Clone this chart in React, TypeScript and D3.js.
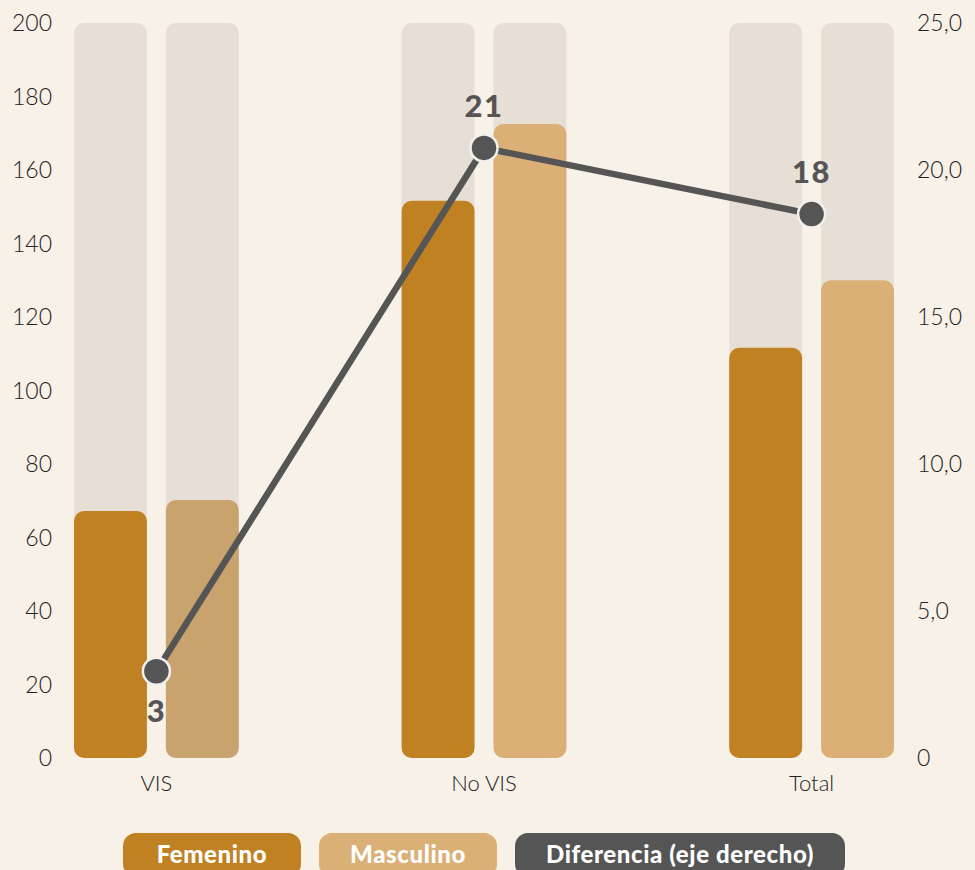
import React from "react";
import * as d3 from "d3";

const categories = ["VIS", "No VIS", "Total"];
const femenino = [67.2, 151.6, 111.6];
const masculino = [70.2, 172.5, 130];
const diferencia = [2.95, 20.75, 18.5];
const diferenciaLabels = ["3", "21", "18"];
const leftTicks = [0, 20, 40, 60, 80, 100, 120, 140, 160, 180, 200];
const rightTicks = [0, 5, 10, 15, 20, 25];
const legendItems = ["Femenino", "Masculino", "Diferencia (eje derecho)"];

const W = 975;
const H = 870;
const FONT = "Lato, 'Noto Sans', sans-serif";

export default function App() {
  const y = d3.scaleLinear().domain([0, 200]).range([758, 23]);
  const yR = d3.scaleLinear().domain([0, 25]).range([758, 23]);
  const x = d3.scaleBand().domain(categories).range([74, 894]).paddingInner(0.497).paddingOuter(0);
  const x1 = d3.scaleBand().domain(["F", "M"]).range([0, x.bandwidth()]).paddingInner(0.2065).paddingOuter(0);
  const bw = x1.bandwidth();
  const fColor = "#bf8122";
  const mColor = "#dab077";
  const mColorVIS = "#c8a36d";
  const bgBar = "#e7dfd5";
  const lineColor = "#555555";

  const pts = categories.map((c, i) => [x(c)! + x.bandwidth() / 2, yR(diferencia[i])] as [number, number]);
  const line = d3.line()(pts) || "";

  const legendX = [123, 319, 515];
  const legendW = [178, 178, 330];
  const legendColors = [fColor, mColor, lineColor];

  return (
    <svg width={W} height={H} style={{ position: "absolute", left: 0, top: 0, display: "block" }}>
      <rect x={0} y={0} width={W} height={H} fill="#f7f1e8" />
      {categories.map((c, i) => (
        <g key={c} transform={`translate(${x(c)},0)`}>
          {["F", "M"].map((k) => (
            <rect key={k} x={x1(k)} y={y(200)} width={bw} height={y(0) - y(200)} rx={10} fill={bgBar} />
          ))}
          <rect x={x1("F")} y={y(femenino[i])} width={bw} height={y(0) - y(femenino[i])} rx={10} fill={fColor} />
          <rect x={x1("M")} y={y(masculino[i])} width={bw} height={y(0) - y(masculino[i])} rx={10} fill={i === 0 ? mColorVIS : mColor} />
          <text x={x.bandwidth() / 2} y={791} textAnchor="middle" fontFamily={FONT} fontWeight={300} fontSize={22} fill="#222">{c}</text>
        </g>
      ))}
      {leftTicks.map((t) => (
        <text key={t} x={52} y={y(t) + 8} textAnchor="end" fontFamily={FONT} fontWeight={300} fontSize={23} fill="#222">{t}</text>
      ))}
      {rightTicks.map((t) => (
        <text key={t} x={917} y={yR(t) + 8} textAnchor="start" fontFamily={FONT} fontWeight={300} fontSize={23} fill="#222">
          {t === 0 ? "0" : d3.format(".1f")(t).replace(".", ",")}
        </text>
      ))}
      <path d={line} fill="none" stroke={lineColor} strokeWidth={6.5} />
      {pts.map((p, i) => (
        <g key={i}>
          <circle cx={p[0]} cy={p[1]} r={13.5} fill={lineColor} stroke="#f2f0ee" strokeWidth={2.5} />
          <text x={p[0]} y={i === 0 ? p[1] + 51 : p[1] - 31} textAnchor="middle" fontFamily={FONT} fontWeight={900} fontSize={31} letterSpacing={1.5} fill={lineColor}>
            {diferenciaLabels[i]}
          </text>
        </g>
      ))}
      {legendItems.map((l, i) => (
        <g key={l}>
          <rect x={legendX[i]} y={833} width={legendW[i]} height={44} rx={13} fill={legendColors[i]} />
          <text x={legendX[i] + legendW[i] / 2} y={863} textAnchor="middle" fontFamily={FONT} fontWeight={900} fontSize={24} letterSpacing={0.6} fill="#fff">{l}</text>
        </g>
      ))}
    </svg>
  );
}
